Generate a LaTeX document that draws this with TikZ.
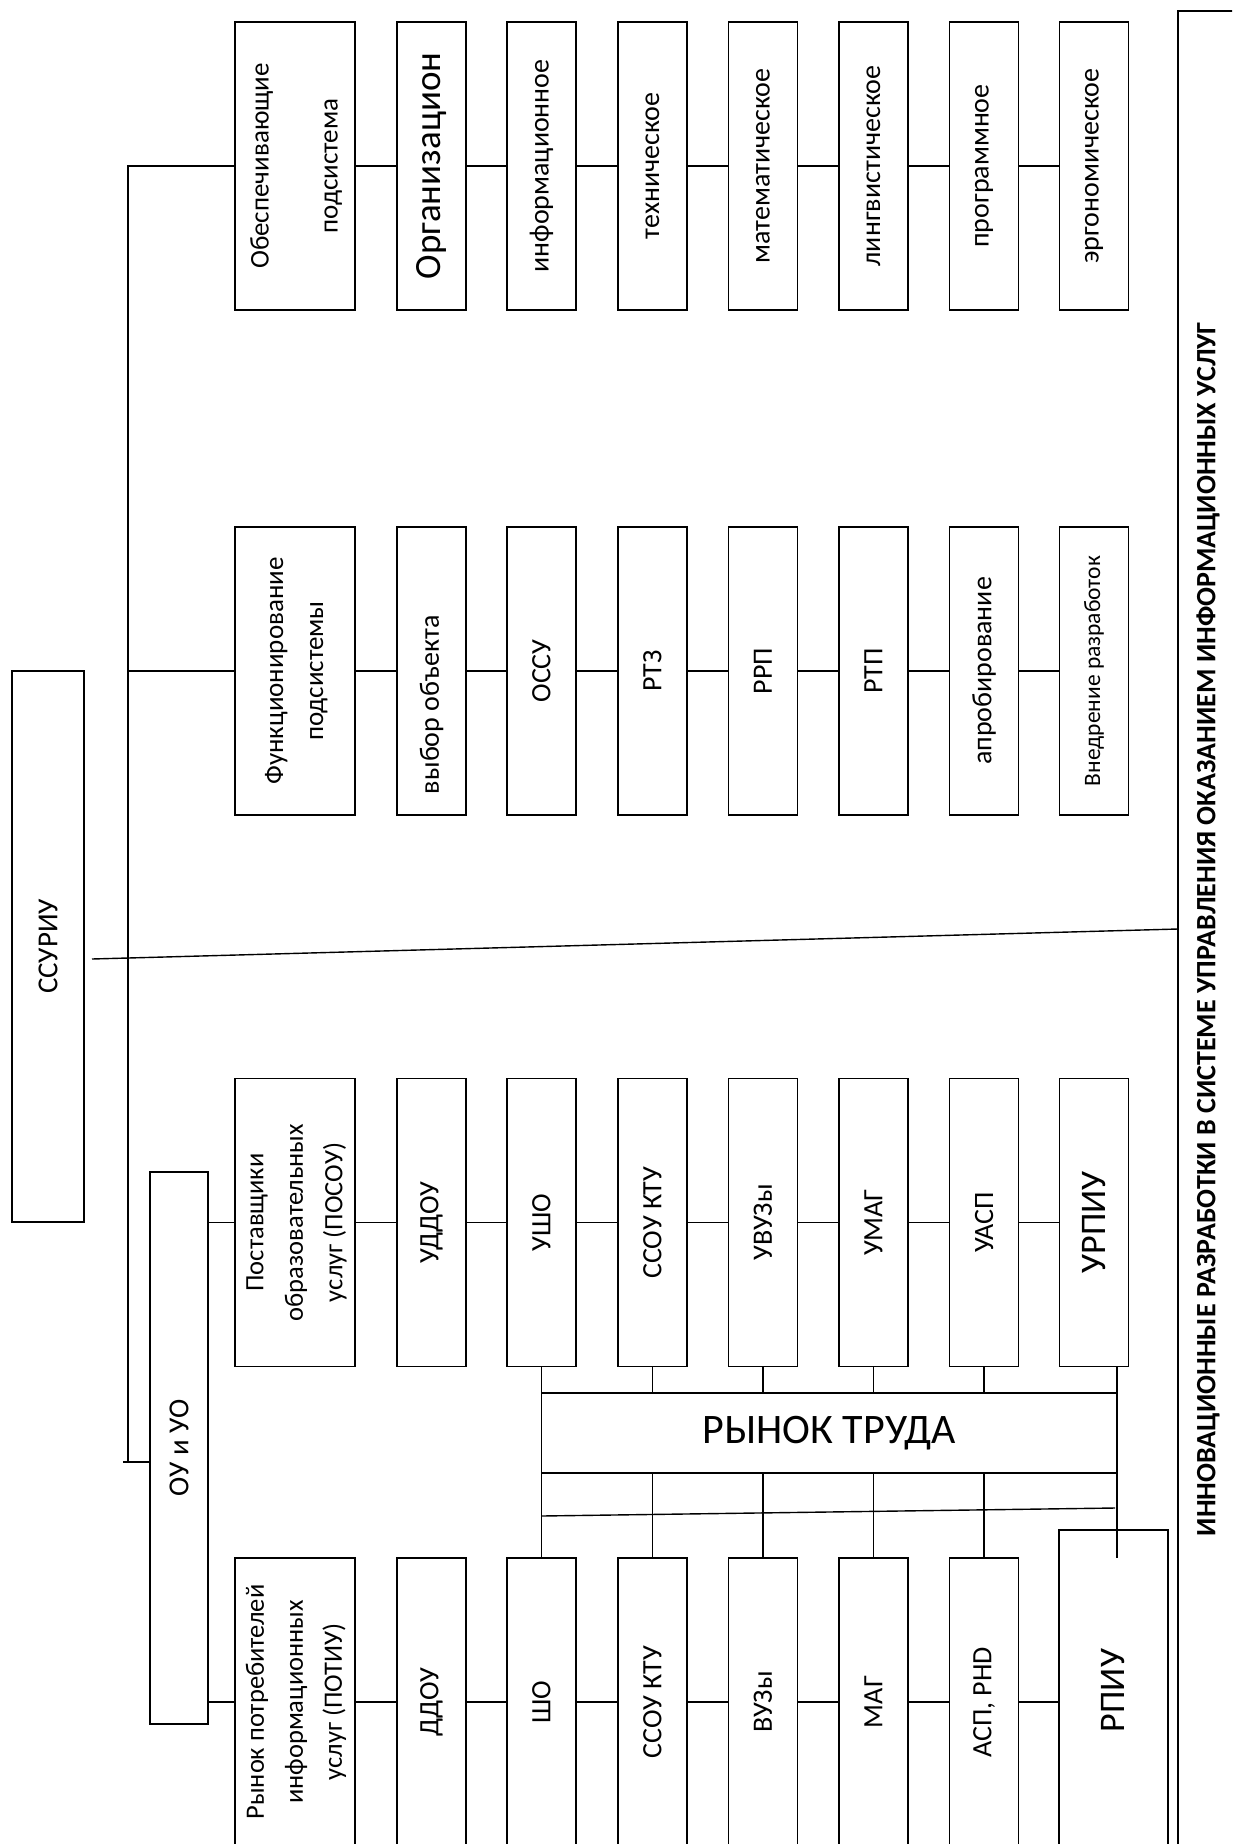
\documentclass[tikz,border=0pt]{standalone}
\usepackage{fontspec}
\setmainfont{Carlito}
\usepackage{graphicx}
\newcommand\VT[1]{\rotatebox{90}{#1}}
\newcommand\FSz[2]{\fontsize{#1}{#2}\selectfont}
\newcommand\ML[1]{\begin{tabular}{@{}c@{}}#1\end{tabular}}
\begin{document}
\begin{tikzpicture}[x=1pt,y=-1pt,
  bx/.style={draw, line width=1.4pt, inner sep=0pt, outer sep=0pt, minimum width=69pt, minimum height=288pt, font=\FSz{28}{34}},
  wbx/.style={bx, minimum width=120pt, font=\FSz{27}{40}},
  ln/.style={line width=1.4pt}]
\useasboundingbox (0,0) rectangle (1232,1844);
\clip (0,0) rectangle (1232,1844);

% top row
\node[wbx] (o0) at (295,166) {\VT{\ML{Обеспечивающие\\[29pt]подсистема}}};
\node[bx, font=\FSz{37}{40}] (o1) at (431.5,166) {\VT{Организацион}};
\node[bx] (o2) at (541.5,166) {\VT{информационное}};
\node[bx] (o3) at (652.5,166) {\VT{техническое}};
\node[bx] (o4) at (763,166) {\VT{математическое}};
\node[bx] (o5) at (873.5,166) {\VT{лингвистическое}};
\node[bx] (o6) at (984,166) {\VT{программное}};
\node[bx] (o7) at (1094,166) {\VT{эргономическое}};

% second row
\node[wbx] (f0) at (295,671) {\VT{\ML{Функционирование\\подсистемы}}};
\node[bx] (f1) at (431.5,671) {\VT{\makebox[246pt][l]{выбор объекта}}};
\node[bx] (f2) at (541.5,671) {\VT{ОССУ}};
\node[bx] (f3) at (652.5,671) {\VT{РТЗ}};
\node[bx] (f4) at (763,671) {\VT{РРП}};
\node[bx] (f5) at (873.5,671) {\VT{РТП}};
\node[bx] (f6) at (984,671) {\VT{апробирование}};
\node[bx, font=\FSz{23.5}{28}] (f7) at (1094,671) {\VT{Внедрение разработок}};

% third row
\node[wbx, font=\FSz{26.5}{39.5}] (u0) at (295,1222.5) {\VT{\ML{Поставщики\\образовательных\\услуг (ПОСОУ)}}};
\node[bx] (u1) at (431.5,1222.5) {\VT{УДДОУ}};
\node[bx] (u2) at (541.5,1222.5) {\VT{УШО}};
\node[bx] (u3) at (652.5,1222.5) {\VT{ССОУ КТУ}};
\node[bx] (u4) at (763,1222.5) {\VT{УВУЗы}};
\node[bx] (u5) at (873.5,1222.5) {\VT{УМАГ}};
\node[bx] (u6) at (984,1222.5) {\VT{УАСП}};
\node[bx, font=\FSz{36}{40}] (u7) at (1094,1222.5) {\VT{УРПИУ}};

% fourth row
\node[wbx, font=\FSz{26.5}{39}] (s0) at (295,1702) {\VT{\ML{Рынок потребителей\\информационных\\услуг (ПОТИУ)}}};
\node[bx] (s1) at (431.5,1702) {\VT{ДДОУ}};
\node[bx] (s2) at (541.5,1702) {\VT{ШО}};
\node[bx] (s3) at (652.5,1702) {\VT{ССОУ КТУ}};
\node[bx] (s4) at (763,1702) {\VT{ВУЗы}};
\node[bx] (s5) at (873.5,1702) {\VT{МАГ}};
\node[bx] (s6) at (984,1702) {\VT{АСП, PHD}};
\node[bx, minimum width=109pt, minimum height=344pt, font=\FSz{36}{40}] (s7) at (1113.5,1702) {\VT{\makebox[60pt][l]{РПИУ}}};

% left boxes
\node[bx, minimum width=72pt, minimum height=551pt, font=\FSz{29}{34}] (ssuriu) at (48,946.5) {\VT{ССУРИУ}};
\node[bx, minimum width=58pt, minimum height=552pt, font=\FSz{29}{34}] (ou) at (179,1448) {\VT{ОУ и УО}};

% labour market
\node[bx, minimum width=575.5pt, minimum height=80pt, font=\FSz{42}{46}] (rt) at (829.25,1433) {\raisebox{-8pt}{РЫНОК ТРУДА}};

% big right box and title
\node[draw, line width=1.4pt, inner sep=0pt, outer sep=0pt, anchor=north west, minimum width=100pt, minimum height=1900pt] (big) at (1178,11) {};
\node[font=\bfseries\FSz{28}{32}, rotate=90, inner sep=0pt] (title) at (1208,929) {ИННОВАЦИОННЫЕ РАЗРАБОТКИ В СИСТЕМЕ УПРАВЛЕНИЯ ОКАЗАНИЕМ ИНФОРМАЦИОННЫХ УСЛУГ};

% coordinates
\coordinate (tTop) at (128,166);
\coordinate (tBot) at (128,1462);
\coordinate (stubL) at (123,1462);
\coordinate (sL) at (92,959);
\coordinate (sR) at (1178,929);
\coordinate (rEnd) at (1117,1558);
\coordinate (lL) at (541.5,1516);
\coordinate (lR) at (1115,1508);

% trunk
\draw[ln] (o0.west) -- (tTop) -- (tBot);
\draw[ln] (f0.west) -- (f0.west -| tTop);
\draw[ln] (stubL) -- (ou.west |- stubL);
\draw[ln] (sL) -- (sR);

% chains
\foreach \r in {o,f,u,s}{
  \foreach \i/\j in {0/1,1/2,2/3,3/4,4/5,5/6,6/7}{
    \draw[ln] (\r\i.east) -- (\r\j.west);
  }
}
\draw[ln] (ou.east |- u0.west) -- (u0.west);
\draw[ln] (ou.east |- s0.west) -- (s0.west);

% labour market links
\draw[ln] (u2.south) -- (s2.north);
\draw[ln] (rt.east |- u7.south) -- (rEnd);
\foreach \i in {3,4,5,6}{
  \draw[ln] (u\i.south) -- (u\i.south |- rt.north);
  \draw[ln] (rt.south -| s\i.north) -- (s\i.north);
}
\draw[ln] (lL) -- (lR);
\end{tikzpicture}
\end{document}
